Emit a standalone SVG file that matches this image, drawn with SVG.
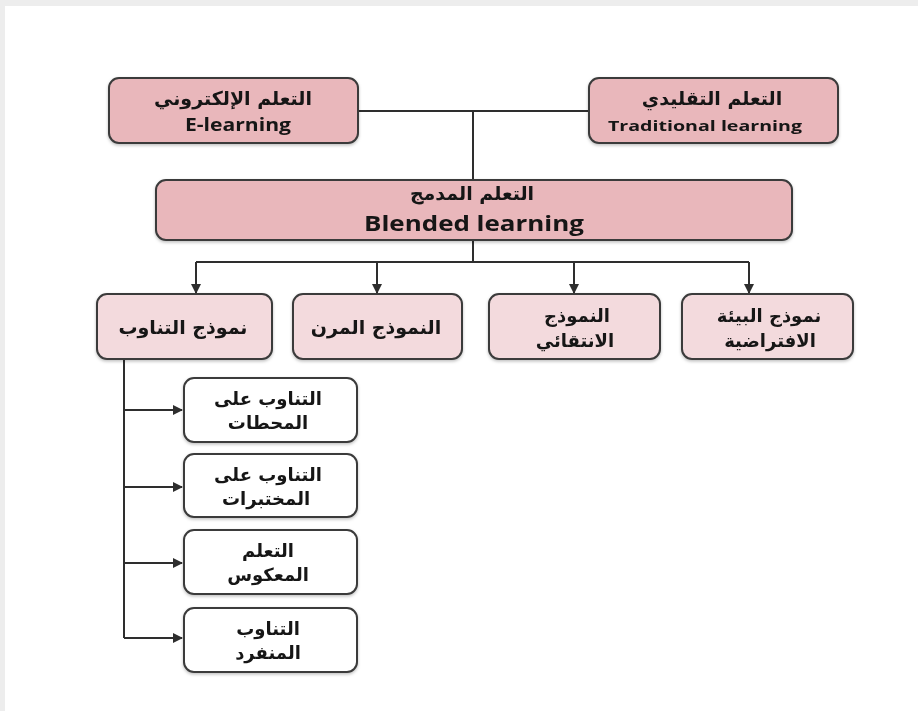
<svg xmlns="http://www.w3.org/2000/svg" width="918" height="711" viewBox="0 0 918 711">
  <defs>
    <style>
      .box { stroke: #3b3b3b; stroke-width: 2; }
      .main { fill: #e9b7bb; }
      .model { fill: #f3dadd; }
      .sub { fill: #ffffff; }
      .ar { font-family: "DejaVu Sans", sans-serif; font-weight: bold; font-size: 18px; fill: #141414; text-anchor: middle; }
      .ar.big { font-size: 19px; }
      .en { font-family: "Open Sans", "Liberation Sans", sans-serif; font-weight: bold; fill: #141414; text-anchor: middle; }
      .line { fill: none; stroke: #2e2e2e; stroke-width: 2; }
    </style>
    <marker id="arrow" viewBox="0 0 10 10" refX="9" refY="5" markerWidth="5" markerHeight="5" orient="auto" markerUnits="strokeWidth">
      <path d="M0,0 L10,5 L0,10 z" fill="#2e2e2e"/>
    </marker>
    <filter id="shadow" x="-5%" y="-10%" width="110%" height="125%">
      <feDropShadow dx="0" dy="1.5" stdDeviation="1.5" flood-color="#000" flood-opacity="0.25"/>
    </filter>
  </defs>

  <!-- page frame -->
  <rect x="0" y="0" width="918" height="711" fill="#ededed"/>
  <rect x="5" y="6" width="913" height="705" fill="#ffffff"/>

  <!-- connectors -->
  <g id="connectors">
    <path class="line" d="M358,111 H589"/>
    <path class="line" d="M473,111 V180"/>
    <path class="line" d="M473,240 V262"/>
    <path class="line" d="M196,262 H749"/>
    <path class="line" d="M196,262 V293" marker-end="url(#arrow)"/>
    <path class="line" d="M377,262 V293" marker-end="url(#arrow)"/>
    <path class="line" d="M574,262 V293" marker-end="url(#arrow)"/>
    <path class="line" d="M749,262 V293" marker-end="url(#arrow)"/>
    <path class="line" d="M124,360 V638"/>
    <path class="line" d="M124,410 H182" marker-end="url(#arrow)"/>
    <path class="line" d="M124,487 H182" marker-end="url(#arrow)"/>
    <path class="line" d="M124,563 H182" marker-end="url(#arrow)"/>
    <path class="line" d="M124,638 H182" marker-end="url(#arrow)"/>
  </g>

  <!-- top row -->
  <g id="e-learning" filter="url(#shadow)">
    <rect class="box main" x="109" y="78" width="249" height="65" rx="10"/>
    <text class="ar big" x="233" y="105">التعلم الإلكتروني</text>
    <text class="en" x="238" y="131" font-size="17" textLength="106" lengthAdjust="spacingAndGlyphs">E-learning</text>
  </g>
  <g id="traditional-learning" filter="url(#shadow)">
    <rect class="box main" x="589" y="78" width="249" height="65" rx="10"/>
    <text class="ar big" x="712" y="105">التعلم التقليدي</text>
    <text class="en" x="705" y="131" font-size="15" textLength="194" lengthAdjust="spacingAndGlyphs">Traditional learning</text>
  </g>

  <!-- blended learning -->
  <g id="blended-learning" filter="url(#shadow)">
    <rect class="box main" x="156" y="180" width="636" height="60" rx="10"/>
    <text class="ar big" x="472" y="200">التعلم المدمج</text>
    <text class="en" x="474" y="231" font-size="21" textLength="220" lengthAdjust="spacingAndGlyphs">Blended learning</text>
  </g>

  <!-- models -->
  <g id="rotation-model" filter="url(#shadow)">
    <rect class="box model" x="97" y="294" width="175" height="65" rx="10"/>
    <text class="ar big" x="183" y="334">نموذج التناوب</text>
  </g>
  <g id="flex-model" filter="url(#shadow)">
    <rect class="box model" x="293" y="294" width="169" height="65" rx="10"/>
    <text class="ar big" x="376" y="334">النموذج المرن</text>
  </g>
  <g id="a-la-carte-model" filter="url(#shadow)">
    <rect class="box model" x="489" y="294" width="171" height="65" rx="10"/>
    <text class="ar" x="577" y="322">النموذج</text>
    <text class="ar" x="575" y="347">الانتقائي</text>
  </g>
  <g id="virtual-model" filter="url(#shadow)">
    <rect class="box model" x="682" y="294" width="171" height="65" rx="10"/>
    <text class="ar" x="769" y="322">نموذج البيئة</text>
    <text class="ar" x="770" y="347">الافتراضية</text>
  </g>

  <!-- rotation sub-models -->
  <g id="station-rotation" filter="url(#shadow)">
    <rect class="box sub" x="184" y="378" width="173" height="64" rx="10"/>
    <text class="ar" x="268" y="405">التناوب على</text>
    <text class="ar" x="268" y="429">المحطات</text>
  </g>
  <g id="lab-rotation" filter="url(#shadow)">
    <rect class="box sub" x="184" y="454" width="173" height="63" rx="10"/>
    <text class="ar" x="268" y="481">التناوب على</text>
    <text class="ar" x="266" y="505">المختبرات</text>
  </g>
  <g id="flipped-classroom" filter="url(#shadow)">
    <rect class="box sub" x="184" y="530" width="173" height="64" rx="10"/>
    <text class="ar" x="268" y="557">التعلم</text>
    <text class="ar" x="268" y="581">المعكوس</text>
  </g>
  <g id="individual-rotation" filter="url(#shadow)">
    <rect class="box sub" x="184" y="608" width="173" height="64" rx="10"/>
    <text class="ar" x="268" y="635">التناوب</text>
    <text class="ar" x="268" y="659">المنفرد</text>
  </g>
</svg>
